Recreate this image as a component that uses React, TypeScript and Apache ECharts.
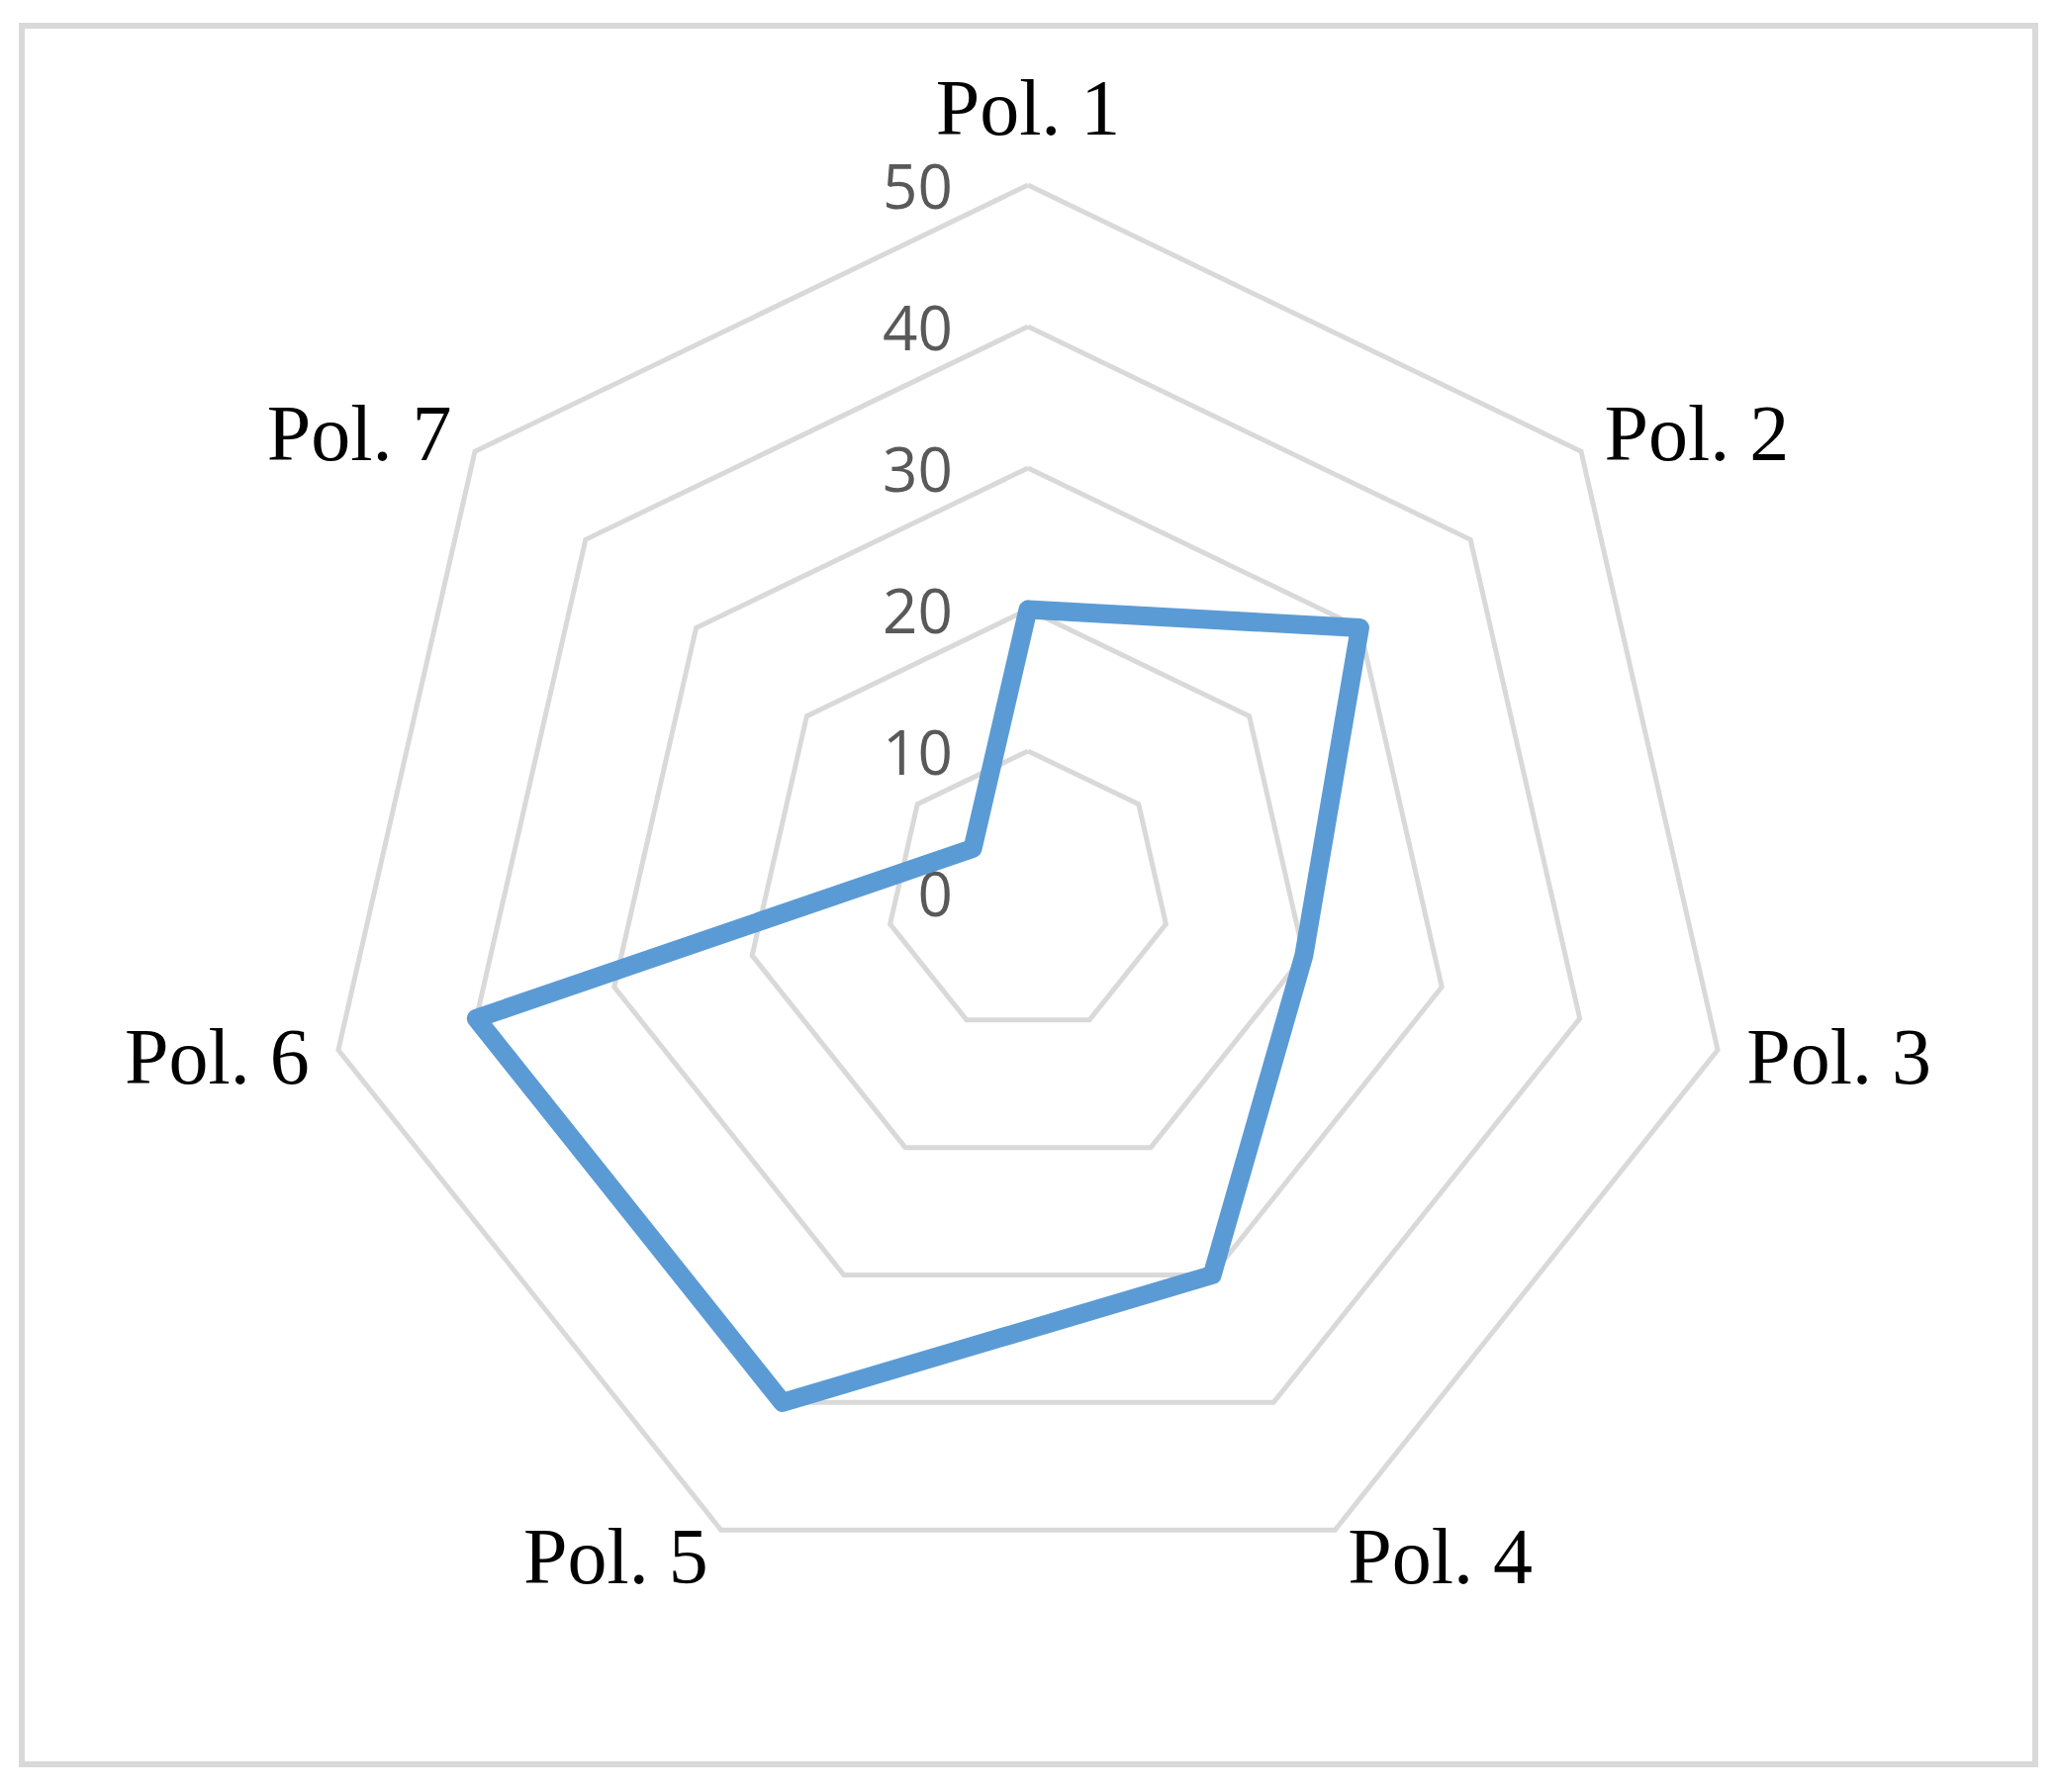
import React, { useEffect, useRef } from "react";
import * as echarts from "echarts";

const categories = ["Pol. 1", "Pol. 2", "Pol. 3", "Pol. 4", "Pol. 5", "Pol. 6", "Pol. 7"];
const values = [20, 30, 20, 30, 40, 40, 5];
const axisMax = 50;
const splitCount = 5;

export default function App() {
  const ref = useRef<HTMLDivElement>(null);
  useEffect(() => {
    if (!ref.current) return;
    const chart = echarts.init(ref.current, null, { renderer: "svg" });
    // ECharts radar runs counter-clockwise; reorder so categories run clockwise
    const order = [0, ...categories.map((_, i) => i).slice(1).reverse()];
    const indicator = order.map((i, k) => {
      const ind: any = { name: categories[i], max: axisMax, min: 0 };
      if (k === 0) {
        ind.nameGap = 38;
        ind.axisLabel = {
          show: true,
          margin: 76,
          color: "#595959",
          fontFamily: "Open Sans",
          fontSize: 62,
        };
      }
      return ind;
    });
    const data = order.map((i) => values[i]);
    chart.setOption({
      animation: false,
      backgroundColor: "#ffffff",
      graphic: [
        {
          type: "rect",
          shape: { x: 22, y: 26, width: 2035, height: 1757 },
          style: { fill: "none", stroke: "#D9D9D9", lineWidth: 6 },
          silent: true,
        },
      ],
      radar: {
        center: [1039, 902],
        radius: 715,
        startAngle: 90,
        splitNumber: splitCount,
        shape: "polygon",
        nameGap: 30,
        axisName: {
          color: "#000000",
          fontFamily: "'Liberation Serif', 'Times New Roman', Times, serif",
          fontSize: 80,
        },
        axisLine: { show: false },
        axisTick: { show: false },
        axisLabel: { show: false },
        splitArea: { show: false },
        splitLine: { lineStyle: { color: "#D9D9D9", width: 5 } },
        indicator,
      },
      series: [
        {
          type: "radar",
          symbol: "none",
          lineStyle: { color: "#5B9BD5", width: 19, join: "round", cap: "round" },
          data: [{ value: data }],
        },
      ],
    });
    return () => chart.dispose();
  }, []);
  return (
    <div
      ref={ref}
      style={{ position: "fixed", left: 0, top: 0, width: 2080, height: 1811, background: "#fff" }}
    />
  );
}
